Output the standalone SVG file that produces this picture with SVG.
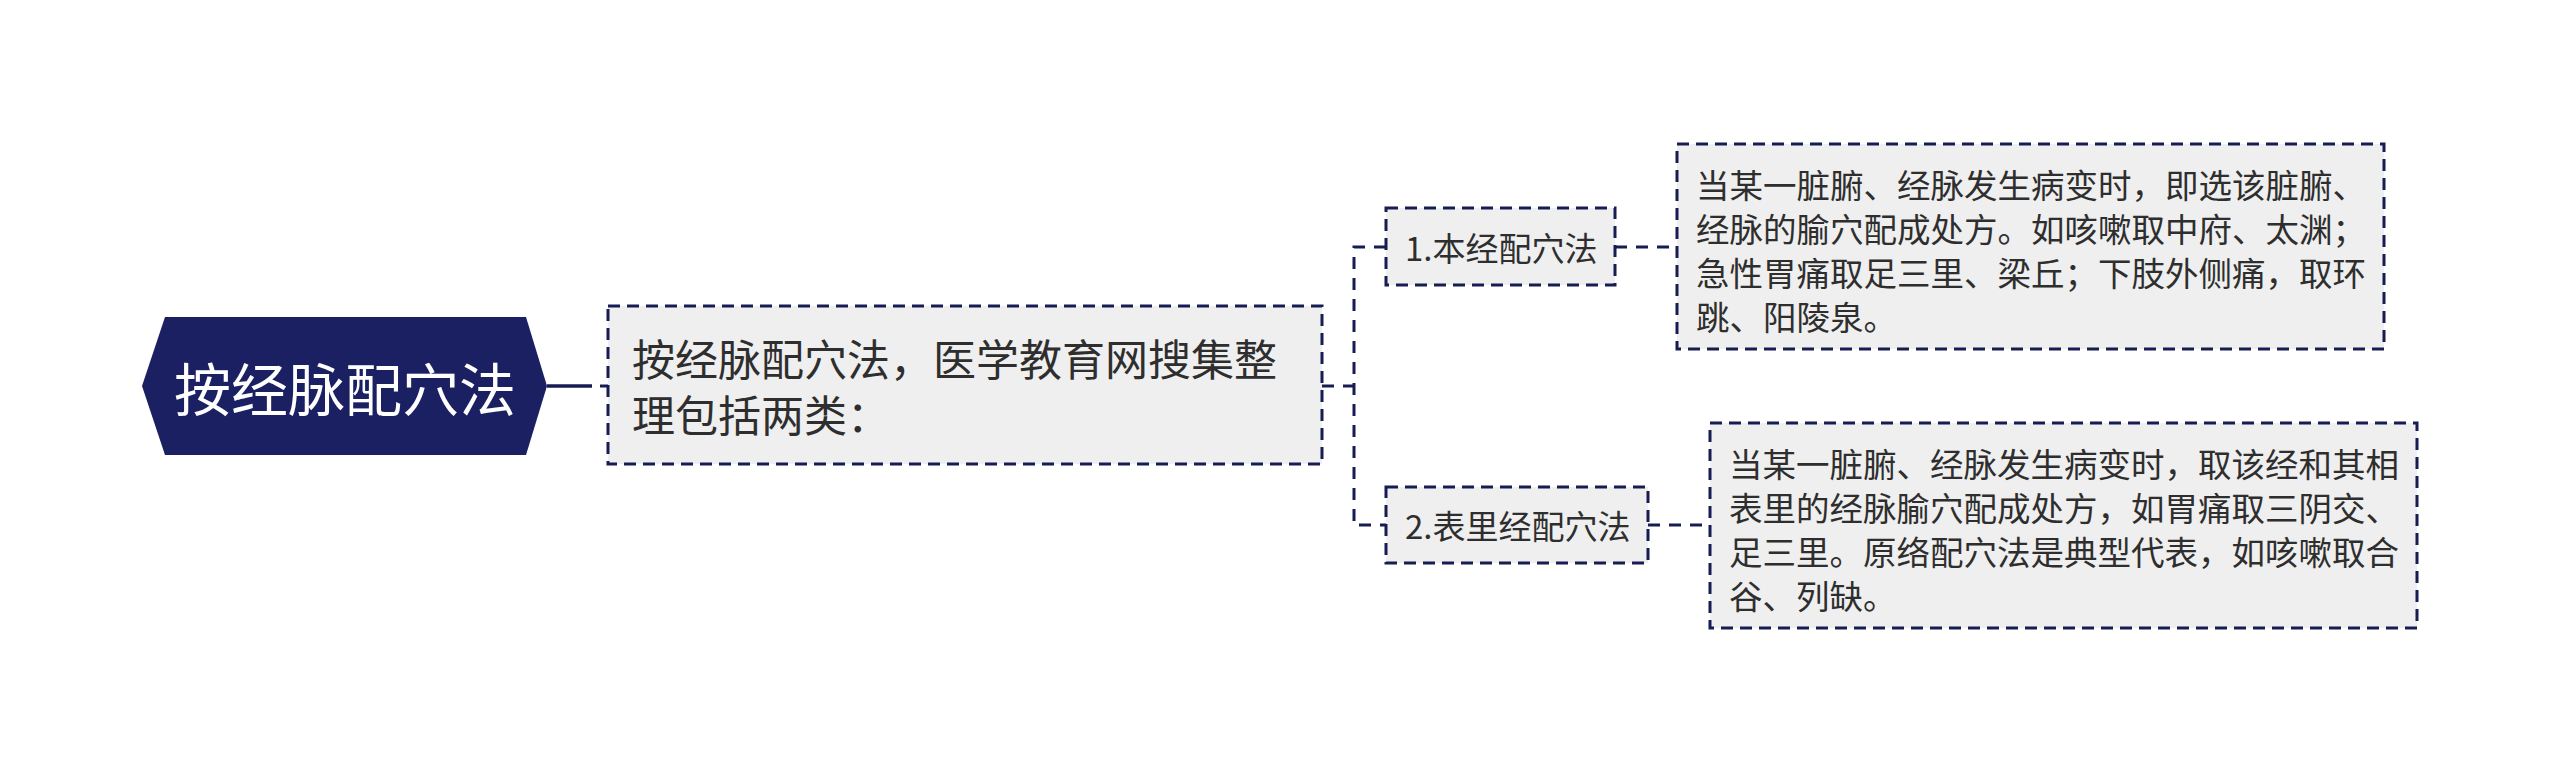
<svg xmlns="http://www.w3.org/2000/svg" width="2560" height="772" viewBox="0 0 2560 772">
<style>
.box{fill:#efefef;stroke:#171c52;stroke-width:3;stroke-dasharray:12 7}
.conn{fill:none;stroke:#171c52;stroke-width:3;stroke-dasharray:12 9}
.t{font-family:"Noto Sans CJK SC","Noto Sans",sans-serif;fill:#2e2e2e;dominant-baseline:central}
.root{font-family:"Noto Sans CJK SC","Noto Sans",sans-serif;fill:#ffffff;font-size:57px;dominant-baseline:central;text-anchor:middle}
</style>
<rect width="2560" height="772" fill="#ffffff"/>
<g id="connectors">
<line x1="547" y1="386" x2="592" y2="386" stroke="#171c52" stroke-width="3.5"/>
<line x1="600" y1="386" x2="608" y2="386" stroke="#171c52" stroke-width="3"/>
<line class="conn" x1="1322" y1="386" x2="1354" y2="386"/>
<path class="conn" d="M1386,247 H1354 V525 H1386"/>
<line class="conn" x1="1615" y1="247" x2="1677" y2="247"/>
<line class="conn" x1="1648" y1="525" x2="1710" y2="525"/>
</g>
<g id="root">
<polygon points="142,386 165,317 526,317 547,386 526,455 165,455" fill="#1b2062"/>
<text class="root" x="345" y="386">按经脉配穴法</text>
</g>
<g id="summary">
<rect class="box" x="608" y="306" width="714" height="158"/>
<text class="t" font-size="43" x="632" y="357">按经脉配穴法，医学教育网搜集整</text>
<text class="t" font-size="43" x="632" y="413">理包括两类：</text>
</g>
<g id="method1">
<rect class="box" x="1386" y="208" width="229" height="77"/>
<text class="t" font-size="33" x="1405" y="247">1.本经配穴法</text>
</g>
<g id="method2">
<rect class="box" x="1386" y="487" width="262" height="76"/>
<text class="t" font-size="33" x="1405" y="525">2.表里经配穴法</text>
</g>
<g id="detail1">
<rect class="box" x="1677" y="144" width="707" height="205"/>
<text class="t" font-size="33.5" x="1696" y="183">当某一脏腑、经脉发生病变时，即选该脏腑、</text>
<text class="t" font-size="33.5" x="1696" y="227">经脉的腧穴配成处方。如咳嗽取中府、太渊；</text>
<text class="t" font-size="33.5" x="1696" y="271">急性胃痛取足三里、梁丘；下肢外侧痛，取环</text>
<text class="t" font-size="33.5" x="1696" y="315">跳、阳陵泉。</text>
</g>
<g id="detail2">
<rect class="box" x="1710" y="423" width="707" height="205"/>
<text class="t" font-size="33.5" x="1729" y="462">当某一脏腑、经脉发生病变时，取该经和其相</text>
<text class="t" font-size="33.5" x="1729" y="506">表里的经脉腧穴配成处方，如胃痛取三阴交、</text>
<text class="t" font-size="33.5" x="1729" y="550">足三里。原络配穴法是典型代表，如咳嗽取合</text>
<text class="t" font-size="33.5" x="1729" y="594">谷、列缺。</text>
</g>
</svg>
